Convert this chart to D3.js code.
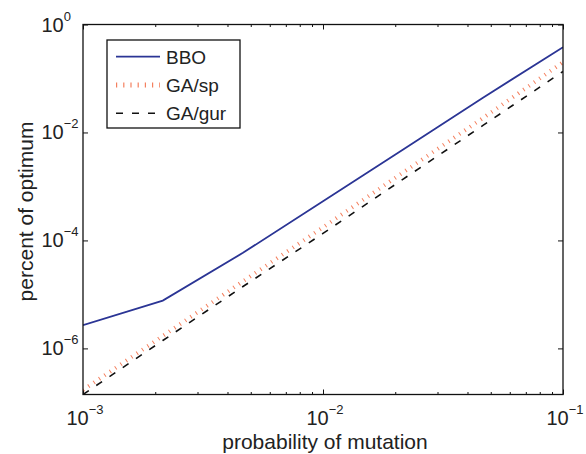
<!DOCTYPE html>
<html>
<head>
<meta charset="utf-8">
<script src="https://cdn.jsdelivr.net/npm/d3@7"></script>
<style>
  body { margin: 0; background: #fff; }
  svg text { font-family: "Liberation Sans", Arial, Helvetica, sans-serif; fill: #222; }
</style>
</head>
<body>
<div id="chart"></div>
<script>
// probability of mutation (x) and percent of optimum (y)
const mutation = [0.001, 0.00215, 0.00464, 0.01, 0.0215, 0.0464, 0.1]
const bbo   = [2.7e-6, 7.7e-6, 5.9e-5, 5.3e-4, 4.8e-3, 4.4e-2, 0.38]
const gaSp  = [1.7e-7, 1.7e-6, 1.75e-5, 1.75e-4, 1.8e-3, 1.85e-2, 0.2]
const gaGur = [1.4e-7, 1.4e-6, 1.4e-5, 1.35e-4, 1.35e-3, 1.35e-2, 0.135]
const seriesNames = ["BBO", "GA/sp", "GA/gur"]

const xMajorTicks = [1e-3, 1e-2, 1e-1]
const xTickExps = ["\u22123", "\u22122", "\u22121"]
const yMajorTicks = [1, 1e-2, 1e-4, 1e-6]
const yTickExps = ["0", "\u22122", "\u22124", "\u22126"]
const xMinorTicks = [2e-3, 3e-3, 4e-3, 5e-3, 6e-3, 7e-3, 8e-3, 9e-3,
                     2e-2, 3e-2, 4e-2, 5e-2, 6e-2, 7e-2, 8e-2, 9e-2]
const yDomain = [1.4e-7, 1]

const width = 586, height = 454
const plot = {left: 83, right: 563, top: 24.5, bottom: 394.5}

const svg = d3.select("#chart").append("svg")
    .attr("width", width)
    .attr("height", height)

const x = d3.scaleLog().domain([1e-3, 1e-1]).range([plot.left, plot.right])
const y = d3.scaleLog().domain(yDomain).range([plot.bottom, plot.top])

// ticks pointing inside, on all four sides
function tickAxis(axis, pos, vals, size) {
    const g = svg.append("g")
        .attr("transform", pos)
        .call(axis.tickValues(vals).tickSize(size).tickFormat(""))
    g.select(".domain").remove()
    g.selectAll("line").attr("stroke", "#111").attr("stroke-width", 1)
}
tickAxis(d3.axisBottom(x), `translate(0,${plot.bottom})`, xMinorTicks, -2.5)
tickAxis(d3.axisBottom(x), `translate(0,${plot.bottom})`, xMajorTicks, -5)
tickAxis(d3.axisTop(x), `translate(0,${plot.top})`, xMinorTicks, -2.5)
tickAxis(d3.axisTop(x), `translate(0,${plot.top})`, xMajorTicks, -5)
tickAxis(d3.axisLeft(y), `translate(${plot.left},0)`, yMajorTicks, -5)
tickAxis(d3.axisRight(y), `translate(${plot.right},0)`, yMajorTicks, -5)

// tick labels 10^n
xMajorTicks.forEach((v, i) => {
    const t = svg.append("text")
        .attr("x", x(v) + 2)
        .attr("y", 425)
        .attr("text-anchor", "middle")
        .style("font-size", "20px")
    t.append("tspan").text("10")
    t.append("tspan").attr("dy", -11).style("font-size", "13px").text(xTickExps[i])
})
yMajorTicks.forEach((v, i) => {
    const t = svg.append("text")
        .attr("x", 41.5)
        .attr("y", y(v) + 7)
        .style("font-size", "20px")
    t.append("tspan").text("10")
    t.append("tspan").attr("dy", -11).style("font-size", "13px").text(yTickExps[i])
})

// axis titles
svg.append("text")
    .attr("x", (plot.left + plot.right) / 2 + 2)
    .attr("y", 449)
    .attr("text-anchor", "middle")
    .style("font-size", "21px")
    .text("probability of mutation")
svg.append("text")
    .attr("transform", `translate(33,${(plot.top + plot.bottom) / 2 + 2}) rotate(-90)`)
    .attr("text-anchor", "middle")
    .style("font-size", "21px")
    .text("percent of optimum")

const styles = [
    {color: "#2b3595", width: 1.8, dash: null},
    {color: "#f4805f", width: 4, dash: "1,5.5"},
    {color: "#111", width: 1.6, dash: "7,9"}
]
const allSeries = [bbo, gaSp, gaGur]

svg.append("clipPath").attr("id", "clip")
    .append("rect")
    .attr("x", plot.left).attr("y", plot.top)
    .attr("width", plot.right - plot.left).attr("height", plot.bottom - plot.top)

const line = d3.line()
    .x((d, i) => x(mutation[i]))
    .y(d => y(d))

allSeries.forEach((s, i) => {
    svg.append("path")
        .datum(s)
        .attr("clip-path", "url(#clip)")
        .attr("fill", "none")
        .attr("stroke", styles[i].color)
        .attr("stroke-width", styles[i].width)
        .attr("stroke-dasharray", styles[i].dash)
        .attr("d", line)
})

// box
svg.append("rect")
    .attr("x", plot.left).attr("y", plot.top)
    .attr("width", plot.right - plot.left).attr("height", plot.bottom - plot.top)
    .attr("fill", "none")
    .attr("stroke", "#111")
    .attr("stroke-width", 1.3)

// legend
const legend = svg.append("g")
legend.append("rect")
    .attr("x", 107).attr("y", 40)
    .attr("width", 133).attr("height", 88)
    .attr("fill", "#fff")
    .attr("stroke", "#111")
    .attr("stroke-width", 1.3)
seriesNames.forEach((name, i) => {
    const ly = 56.7 + i * 28.3
    const dotted = i === 1
    legend.append("line")
        .attr("x1", 116).attr("x2", 160)
        .attr("y1", ly).attr("y2", ly)
        .attr("stroke", styles[i].color)
        // the dotted style shows as short vertical ticks
        .attr("stroke-width", dotted ? 5 : styles[i].width)
        .attr("stroke-dasharray", dotted ? "1.2,6" : styles[i].dash)
    legend.append("text")
        .attr("x", 166)
        .attr("y", ly + 6.8)
        .style("font-size", "19px")
        .text(name)
})
</script>
</body>
</html>
